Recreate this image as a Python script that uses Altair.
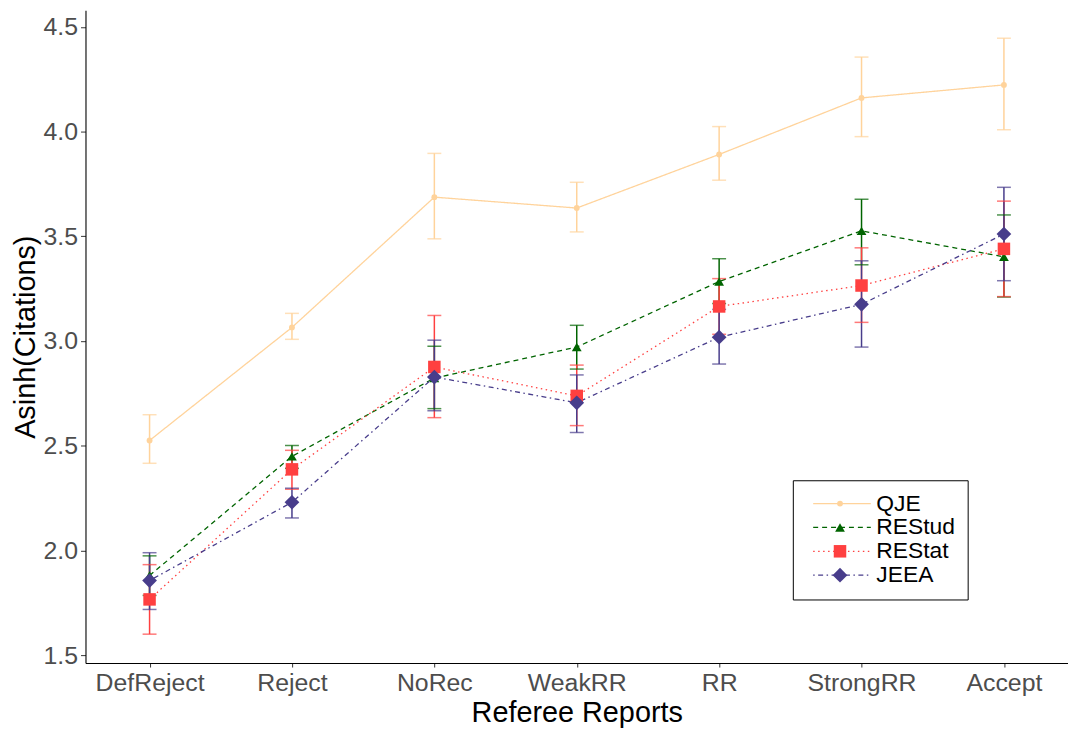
import altair as alt
import pandas as pd

categories = ["DefReject", "Reject", "NoRec", "WeakRR", "RR", "StrongRR", "Accept"]
journals = ["QJE", "REStud", "REStat", "JEEA"]

qje = [2.525, 3.065, 3.687, 3.635, 3.891, 4.161, 4.223]
qje_lo = [2.416, 3.008, 3.488, 3.521, 3.768, 3.976, 4.009]
qje_hi = [2.648, 3.132, 3.896, 3.758, 4.024, 4.356, 4.446]

restud = [1.880, 2.449, 2.823, 2.971, 3.284, 3.526, 3.402]
restud_lo = [1.785, 2.392, 2.677, 2.866, 3.179, 3.364, 3.210]
restud_hi = [1.974, 2.501, 2.975, 3.075, 3.393, 3.677, 3.602]

restat = [1.766, 2.387, 2.876, 2.738, 3.165, 3.265, 3.440]
restat_lo = [1.600, 2.292, 2.634, 2.596, 3.032, 3.089, 3.212]
restat_hi = [1.932, 2.478, 3.122, 2.885, 3.298, 3.445, 3.668]

jeea = [1.856, 2.230, 2.828, 2.705, 3.018, 3.175, 3.511]
jeea_lo = [1.718, 2.155, 2.667, 2.563, 2.890, 2.971, 3.288]
jeea_hi = [1.989, 2.297, 3.004, 2.838, 3.151, 3.383, 3.734]

y_ticks = [1.5, 2.0, 2.5, 3.0, 3.5, 4.0, 4.5]

colors = ["#FFD39B", "#006400", "#FF4040", "#483D8B"]
shapes = ["circle", "triangle-up", "square", "diamond"]
sizes = [35, 220, 120, 80]
dashes = [[1, 0], [5, 4], [1.5, 3.5], [1.5, 3.5, 5, 3.5]]

series = {"QJE": (qje, qje_lo, qje_hi), "REStud": (restud, restud_lo, restud_hi),
          "REStat": (restat, restat_lo, restat_hi), "JEEA": (jeea, jeea_lo, jeea_hi)}
rows = []
for j in journals:
    v, lo, hi = series[j]
    for c, a, b, d in zip(categories, v, lo, hi):
        rows.append({"cat": c, "journal": j, "y": a, "lo": b, "hi": d, "order": journals.index(j)})
df = pd.DataFrame(rows)

FONT = "Liberation Sans"

x_enc = alt.X("cat:N", sort=categories, title="Referee Reports",
              scale=alt.Scale(type="point", padding=0.45),
              axis=alt.Axis(labelAngle=0, labelFontSize=25, labelColor="#4D4D4D", labelFont=FONT,
                            tickColor="#333333", tickSize=4, labelPadding=4, domainColor="black",
                            titleFontSize=29, titleFont=FONT, titleColor="black", titleFontWeight="normal",
                            titlePadding=3, grid=False))
y_scale = alt.Scale(domain=[1.462, 4.579], nice=False, zero=False)
y_enc = alt.Y("y:Q", scale=y_scale, title="Asinh(Citations)",
              axis=alt.Axis(values=y_ticks, format=".1f", labelFontSize=25, labelColor="#4D4D4D",
                            labelFont=FONT, tickColor="#333333", tickSize=5, labelPadding=3,
                            domainColor="black", titleFontSize=29, titleFont=FONT, titleColor="black",
                            titleFontWeight="normal", titlePadding=3, grid=False))

color_scale = alt.Scale(domain=journals, range=colors)

base = alt.Chart(df)

lines = base.mark_line(strokeWidth=1.3).encode(
    x=x_enc, y=y_enc,
    color=alt.Color("journal:N", scale=color_scale, sort=journals,
                    legend=alt.Legend(orient="none", legendX=712, legendY=473, title=None,
                                      symbolType="M-5.8,0H5.8", symbolSize=100, symbolStrokeWidth=1.3,
                                      labelFontSize=23, labelFont=FONT, labelColor="black",
                                      strokeColor="black", padding=12, rowPadding=0,
                                      symbolOffset=26, labelOffset=23)),
    strokeDash=alt.StrokeDash("journal:N", sort=journals,
                              scale=alt.Scale(domain=journals, range=dashes)),
    order="order:Q",
)

rules = base.mark_rule(strokeWidth=1.5).encode(
    x=alt.X("cat:N", sort=categories),
    y=alt.Y("lo:Q", scale=y_scale),
    y2="hi:Q",
    color=alt.Color("journal:N", scale=color_scale, legend=None),
)
caps_lo = base.mark_tick(size=14, thickness=1.5).encode(
    x=alt.X("cat:N", sort=categories),
    y=alt.Y("lo:Q", scale=y_scale),
    color=alt.Color("journal:N", scale=color_scale, legend=None),
)
caps_hi = base.mark_tick(size=14, thickness=1.5).encode(
    x=alt.X("cat:N", sort=categories),
    y=alt.Y("hi:Q", scale=y_scale),
    color=alt.Color("journal:N", scale=color_scale, legend=None),
)

points = base.mark_point(filled=True, opacity=1).encode(
    x=alt.X("cat:N", sort=categories),
    y=alt.Y("y:Q", scale=y_scale),
    color=alt.Color("journal:N", scale=color_scale, sort=journals,
                    legend=alt.Legend(orient="none", legendX=736, legendY=473, title=None,
                                      labelExpr="''", labelFontSize=23, padding=12, rowPadding=0,
                                      symbolStrokeWidth=0, symbolOpacity=1)),
    shape=alt.Shape("journal:N", sort=journals, scale=alt.Scale(domain=journals, range=shapes)),
    size=alt.Size("journal:N", sort=journals, scale=alt.Scale(domain=journals, range=sizes)),
)

chart = alt.layer(lines, rules, caps_lo, caps_hi, points).resolve_legend(
    color="independent", shape="independent", size="independent", strokeDash="independent"
).properties(
    width=989, height=657,
    autosize=alt.AutoSizeParams(type="none"),
    padding={"left": 78, "top": 0, "right": 0, "bottom": 66},
).configure_view(stroke=None).configure_axis(domainWidth=1.1)

chart.save("out.html", embed_options={"renderer": "svg", "actions": False})
